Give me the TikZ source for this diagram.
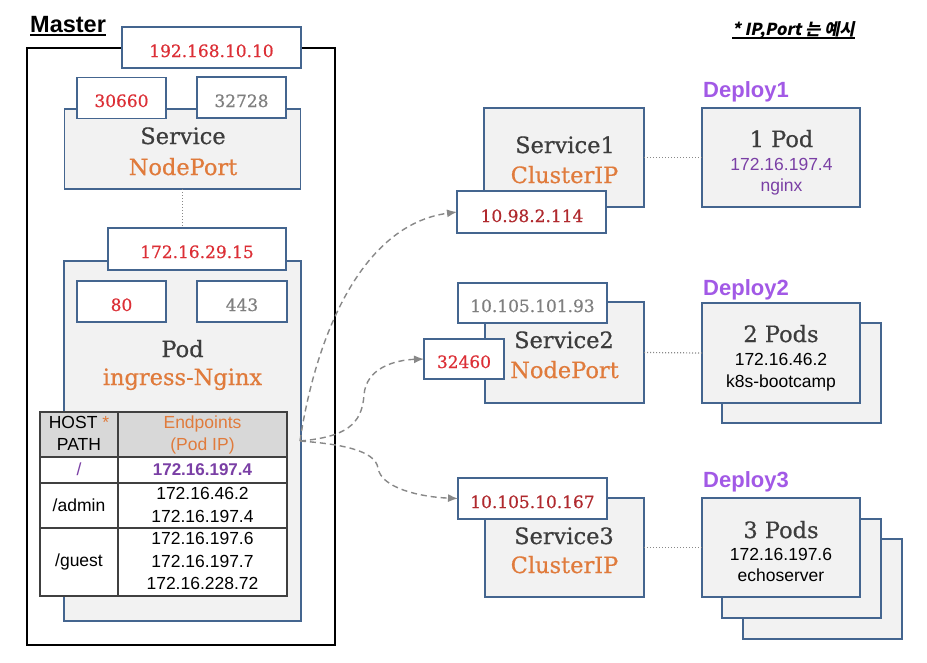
\documentclass[tikz,border=0pt]{standalone}
\usepackage{fontspec}
\setmainfont[FakeBold=0.6]{DejaVu Serif}
\newfontfamily\sansf{Liberation Sans}
\newfontfamily\krf[FakeSlant=0.2]{Noto Sans CJK KR}
\usetikzlibrary{arrows.meta}
\definecolor{boxline}{HTML}{44658F}
\definecolor{boxfill}{HTML}{F2F2F2}
\definecolor{redt}{HTML}{DC2F36}
\definecolor{darkred}{HTML}{B0292E}
\definecolor{grayt}{HTML}{7F7F7F}
\definecolor{oranget}{HTML}{E07B3C}
\definecolor{purplet}{HTML}{7A3FA5}
\definecolor{deployc}{HTML}{A259E6}
\definecolor{darkt}{HTML}{3D3D3D}
\definecolor{headfill}{HTML}{D8D8D8}
\definecolor{tline}{HTML}{404040}
\definecolor{arrowgray}{HTML}{888888}
\begin{document}
\begin{tikzpicture}[x=1pt,y=-1pt,
  box/.style={draw=boxline, line width=1.4pt, fill=boxfill, inner sep=0pt, outer sep=0pt},
  ipbox/.style={draw=boxline, line width=1.4pt, fill=white, inner sep=0pt, outer sep=0pt},
  cell/.style={draw=tline, line width=1.3pt, inner sep=0pt, outer sep=0pt},
  txt/.style={inner sep=0pt, anchor=base},
  big/.style={txt, font=\fontsize{22.5}{26}\selectfont},
  ipf/.style={txt, font=\fontsize{17}{20}\selectfont},
  sf/.style={txt, font=\sansf\fontsize{17.5}{20}\selectfont},
  deplab/.style={inner sep=0pt, anchor=base west, text=deployc, font=\sansf\bfseries\fontsize{22}{26}\selectfont},
  conn/.style={draw=arrowgray, line width=1.4pt, dash pattern=on 6pt off 4pt, -{Latex[length=10pt,width=8pt]}},
  dotl/.style={draw=arrowgray, line width=1.2pt, dash pattern=on 1.2pt off 1.8pt}
]
\useasboundingbox (0,0) rectangle (927,662);
\fill[white] (0,0) rectangle (927,662);

% Master
\node[draw=black, line width=1.5pt, minimum width=308pt, minimum height=597pt, inner sep=0pt] (master) at (181,346.5) {};
\node[inner sep=0pt, anchor=base west, font=\sansf\bfseries\fontsize{23.5}{26}\selectfont] (mlab) at (30,32) {Master};
\draw[line width=2pt] ([yshift=-2.5pt]mlab.base west) -- ([yshift=-2.5pt]mlab.base east);
\node[ipbox, minimum width=179pt, minimum height=41pt] (mip) at (211.5,47.5) {};
\node[ipf, text=redt] (miptxt) at (211.5,57) {192.168.10.10};

% Service NodePort
\node[box, minimum width=236pt, minimum height=80pt] (svc) at (182.5,149) {};
\node[ipbox, minimum width=89pt, minimum height=41pt] (p1) at (121.5,98) {};
\node[ipbox, minimum width=89pt, minimum height=41pt] (p2) at (241.5,97.5) {};
\node[ipf, text=redt] (p1t) at (121.5,107) {30660};
\node[ipf, text=grayt] (p2t) at (241.5,107) {32728};
\node[big, text=darkt] (svct) at (183,144) {Service};
\node[big, text=oranget] (svct2) at (183,175) {NodePort};

% Pod
\node[box, minimum width=237pt, minimum height=360pt] (pod) at (182.5,441) {};
\node[ipbox, minimum width=178pt, minimum height=42pt] (podip) at (197,249) {};
\node[ipf, text=redt] (podipt) at (197,258) {172.16.29.15};
\node[ipbox, minimum width=89pt, minimum height=41pt] (q1) at (121.5,301.5) {};
\node[ipbox, minimum width=90pt, minimum height=41pt] (q2) at (242,301.5) {};
\node[ipf, text=redt] (q1t) at (121.5,311) {80};
\node[ipf, text=grayt] (q2t) at (242,311) {443};
\node[big, text=darkt] (podt) at (182.5,357) {Pod};
\node[big, text=oranget] (podt2) at (182.5,385) {ingress-Nginx};
\draw[dotl] (svc.south) -- (svc.south |- podip.north);

% Table
\node[cell, fill=headfill, minimum width=78pt, minimum height=45pt] (h1) at (79,434.5) {};
\node[cell, fill=headfill, minimum width=169pt, minimum height=45pt] (h2) at (202.5,434.5) {};
\node[cell, fill=white, minimum width=78pt, minimum height=26pt] (r1a) at (79,470) {};
\node[cell, fill=white, minimum width=169pt, minimum height=26pt] (r1b) at (202.5,470) {};
\node[cell, fill=white, minimum width=78pt, minimum height=45pt] (r2a) at (79,505.5) {};
\node[cell, fill=white, minimum width=169pt, minimum height=45pt] (r2b) at (202.5,505.5) {};
\node[cell, fill=white, minimum width=78pt, minimum height=68pt] (r3a) at (79,562) {};
\node[cell, fill=white, minimum width=169pt, minimum height=68pt] (r3b) at (202.5,562) {};
\node[sf] (h1t1) at (79,428) {HOST \textcolor{oranget}{*}};
\node[sf] (h1t2) at (79,450) {PATH};
\node[sf, text=oranget] (h2t1) at (202.5,428) {Endpoints};
\node[sf, text=oranget] (h2t2) at (202.5,450) {(Pod IP)};
\node[sf, text=purplet] (r1at) at (79,475) {/};
\node[sf, text=purplet, font=\sansf\bfseries\fontsize{17}{20}\selectfont] (r1bt) at (202.5,475) {172.16.197.4};
\node[sf] (r2at) at (79,511) {/admin};
\node[sf] (r2bt1) at (202.5,499) {172.16.46.2};
\node[sf] (r2bt2) at (202.5,522) {172.16.197.4};
\node[sf] (r3at) at (79,566) {/guest};
\node[sf] (r3bt1) at (202.5,544) {172.16.197.6};
\node[sf] (r3bt2) at (202.5,567) {172.16.197.7};
\node[sf] (r3bt3) at (202.5,589) {172.16.228.72};

% Note
\node[inner sep=0pt, anchor=base west, font=\krf\bfseries\fontsize{16.5}{19}\selectfont] (note) at (732,35) {* IP,Port 는 예시};
\draw[line width=1.6pt] ([yshift=-3pt]note.base west) -- ([yshift=-3pt]note.base east);

% Service1 / Deploy1
\node[box, minimum width=160pt, minimum height=99pt] (svc1) at (564,157.5) {};
\node[ipbox, minimum width=149pt, minimum height=42pt] (ip1) at (531.5,212) {};
\node[ipf, text=darkred] (ip1t) at (532,222) {10.98.2.114};
\node[big, text=darkt] (svc1t) at (565,153) {Service1};
\node[big, text=oranget] (svc1t2) at (564.5,183) {ClusterIP};
\node[deplab] (d1lab) at (703,97) {Deploy1};
\node[box, minimum width=158pt, minimum height=99pt] (dep1) at (781,157.5) {};
\node[big, text=darkt] (dep1t) at (781.5,147) {1 Pod};
\node[sf, text=purplet] (dep1t2) at (781.5,170) {172.16.197.4};
\node[sf, text=purplet] (dep1t3) at (781.5,191) {nginx};
\draw[dotl] (svc1.east) -- (dep1.west);

% Service2 / Deploy2
\node[box, minimum width=159pt, minimum height=101pt] (svc2) at (564.5,352.5) {};
\node[ipbox, minimum width=149pt, minimum height=40pt] (ip2a) at (532.5,303) {};
\node[ipbox, minimum width=80pt, minimum height=40pt] (ip2b) at (464,359) {};
\node[ipf, text=grayt] (ip2at) at (532.5,312) {10.105.101.93};
\node[ipf, text=redt] (ip2bt) at (464,368) {32460};
\node[big, text=darkt] (svc2t) at (564,348) {Service2};
\node[big, text=oranget] (svc2t2) at (564.5,378) {NodePort};
\node[deplab] (d2lab) at (703,295) {Deploy2};
\node[box, minimum width=159pt, minimum height=100pt] (dep2b) at (801.5,373) {};
\node[box, minimum width=158pt, minimum height=100pt] (dep2) at (781,353) {};
\node[big, text=darkt] (dep2t) at (781,342) {2 Pods};
\node[sf] (dep2t2) at (781,365) {172.16.46.2};
\node[sf] (dep2t3) at (781,387) {k8s-bootcamp};
\draw[dotl] (svc2.east) -- (dep2.west);

% Service3 / Deploy3
\node[box, minimum width=159pt, minimum height=99pt] (svc3) at (564.5,547.5) {};
\node[ipbox, minimum width=149pt, minimum height=41pt] (ip3) at (532.5,498.5) {};
\node[ipf, text=darkred] (ip3t) at (532.5,508) {10.105.10.167};
\node[big, text=darkt] (svc3t) at (564,544) {Service3};
\node[big, text=oranget] (svc3t2) at (564.5,573) {ClusterIP};
\node[deplab] (d3lab) at (703,487) {Deploy3};
\node[box, minimum width=159pt, minimum height=100pt] (dep3c) at (822.5,589) {};
\node[box, minimum width=159pt, minimum height=99pt] (dep3b) at (801.5,568.5) {};
\node[box, minimum width=158pt, minimum height=99pt] (dep3) at (781,547.5) {};
\node[big, text=darkt] (dep3t) at (781,538) {3 Pods};
\node[sf] (dep3t2) at (781,560) {172.16.197.6};
\node[sf] (dep3t3) at (781,581) {echoserver};
\draw[dotl] (svc3.east) -- (dep3.west);

% Dashed connectors
\coordinate (src) at (300,441);
\draw[conn] (src) .. controls (315,340) and (360,225) .. (ip1.west);
\draw[conn] (src) .. controls (345,437) and (362,425) .. (364,395) .. controls (366,368) and (395,360) .. (ip2b.west);
\draw[conn] (src) .. controls (340,444) and (375,450) .. (378,468) .. controls (381,488) and (420,497) .. (ip3.west);
\end{tikzpicture}
\end{document}
